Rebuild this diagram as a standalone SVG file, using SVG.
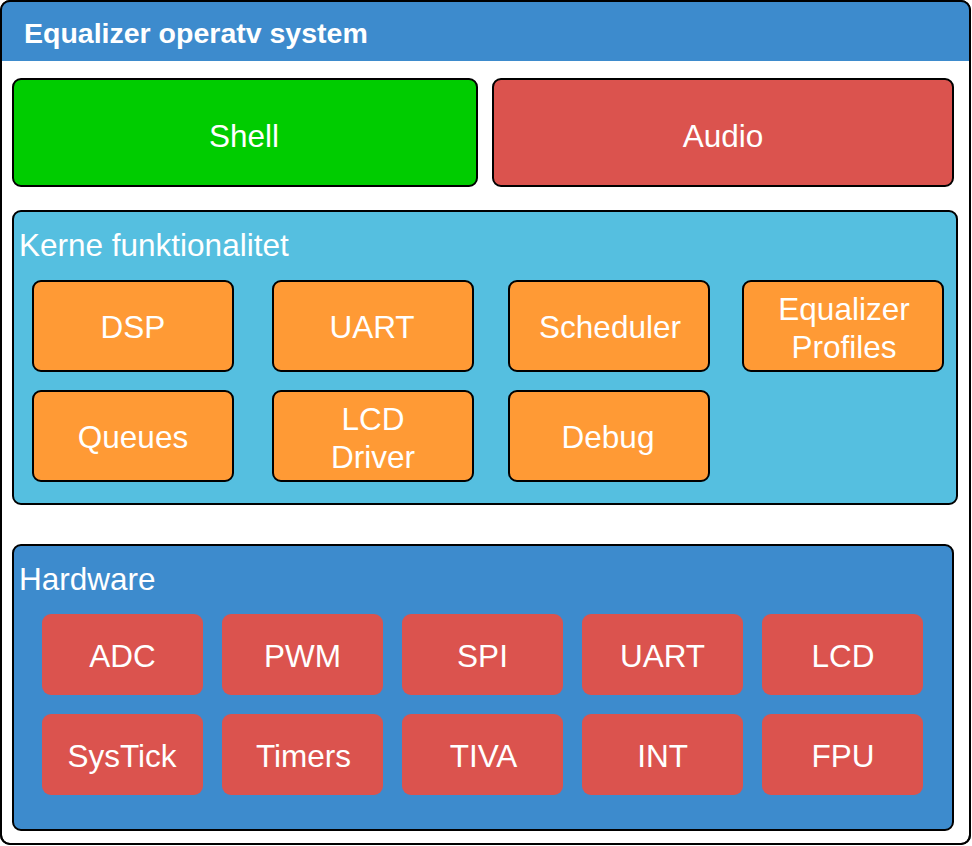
<svg xmlns="http://www.w3.org/2000/svg" width="972" height="846" viewBox="0 0 972 846">
<style>
text{font-family:"Liberation Sans",Arial,sans-serif;fill:#fff;font-size:31.5px}
.c{text-anchor:middle}
.t{font-weight:bold;font-size:28.5px}
.orange{fill:#FF9A35;stroke:#000;stroke-width:2}
.hw{fill:#DB534E}
.lane{stroke:#000;stroke-width:2}
</style>
<g id="container">
<rect x="1" y="1" width="969" height="843" rx="9" fill="#fff" stroke="#000" stroke-width="2"/>
<path d="M1,61 V10 a9,9 0 0 1 9,-9 H961 a9,9 0 0 1 9,9 V61 Z" fill="#3D8BCD"/>
<rect x="1" y="1" width="969" height="843" rx="9" fill="none" stroke="#000" stroke-width="2"/>
<text class="t" x="24" y="43">Equalizer operatv system</text>
</g>
<g id="shell">
<rect x="13" y="79" width="464" height="107" rx="8" fill="#00CC00" stroke="#000" stroke-width="2"/>
<text class="c" x="244" y="146.5">Shell</text>
</g>
<g id="audio">
<rect x="493" y="79" width="460" height="107" rx="8" fill="#DB534E" stroke="#000" stroke-width="2"/>
<text class="c" x="723" y="146.5">Audio</text>
</g>
<g id="kerne">
<rect class="lane" x="13" y="211" width="944" height="293" rx="8" fill="#55BFE0"/>
<text x="19" y="256">Kerne funktionalitet</text>
</g>
<g id="dsp"><rect class="orange" x="33" y="281" width="200" height="90" rx="8"/><text class="c" x="133" y="338">DSP</text></g>
<g id="uart-k"><rect class="orange" x="273" y="281" width="200" height="90" rx="8"/><text class="c" x="372" y="338">UART</text></g>
<g id="scheduler"><rect class="orange" x="509" y="281" width="200" height="90" rx="8"/><text class="c" x="610" y="338">Scheduler</text></g>
<g id="eqprofiles"><rect class="orange" x="743" y="281" width="200" height="90" rx="8"/><text class="c" x="844" y="320">Equalizer</text><text class="c" x="844" y="358">Profiles</text></g>
<g id="queues"><rect class="orange" x="33" y="391" width="200" height="90" rx="8"/><text class="c" x="133" y="448">Queues</text></g>
<g id="lcddriver"><rect class="orange" x="273" y="391" width="200" height="90" rx="8"/><text class="c" x="373" y="430">LCD</text><text class="c" x="373" y="468">Driver</text></g>
<g id="debug"><rect class="orange" x="509" y="391" width="200" height="90" rx="8"/><text class="c" x="608" y="448">Debug</text></g>
<g id="hardware">
<rect class="lane" x="13" y="545" width="940" height="285" rx="8" fill="#3D8BCD"/>
<text x="19" y="590">Hardware</text>
</g>
<g id="adc"><rect class="hw" x="42" y="614" width="161" height="81" rx="9"/><text class="c" x="122.5" y="667">ADC</text></g>
<g id="pwm"><rect class="hw" x="222" y="614" width="161" height="81" rx="9"/><text class="c" x="302.5" y="667">PWM</text></g>
<g id="spi"><rect class="hw" x="402" y="614" width="161" height="81" rx="9"/><text class="c" x="482.5" y="667">SPI</text></g>
<g id="uart-h"><rect class="hw" x="582" y="614" width="161" height="81" rx="9"/><text class="c" x="662.5" y="667">UART</text></g>
<g id="lcd"><rect class="hw" x="762" y="614" width="161" height="81" rx="9"/><text class="c" x="843" y="667">LCD</text></g>
<g id="systick"><rect class="hw" x="42" y="714" width="161" height="81" rx="9"/><text class="c" x="122" y="767">SysTick</text></g>
<g id="timers"><rect class="hw" x="222" y="714" width="161" height="81" rx="9"/><text class="c" x="303.5" y="767">Timers</text></g>
<g id="tiva"><rect class="hw" x="402" y="714" width="161" height="81" rx="9"/><text class="c" x="483.5" y="767">TIVA</text></g>
<g id="int"><rect class="hw" x="582" y="714" width="161" height="81" rx="9"/><text class="c" x="662.5" y="767">INT</text></g>
<g id="fpu"><rect class="hw" x="762" y="714" width="161" height="81" rx="9"/><text class="c" x="843" y="767">FPU</text></g>
<g id="connectors"></g>
</svg>
